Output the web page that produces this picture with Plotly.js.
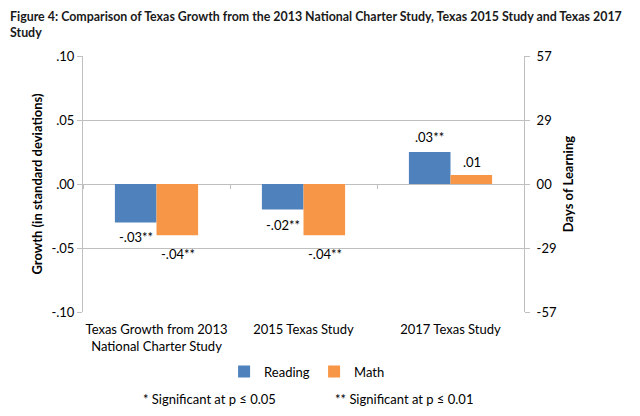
<!DOCTYPE html>
<html>
<head>
<meta charset="utf-8">
<script src="https://cdn.plot.ly/plotly-3.0.1.min.js"></script>
<style>
  html, body { margin: 0; padding: 0; background: #fff; }
  #chart { width: 640px; height: 416px; }
</style>
</head>
<body>
<div id="chart"></div>
<script>
// categories and values
var studies = ['Texas Growth from 2013<br>National Charter Study', '2015 Texas Study', '2017 Texas Study'];
var reading = [-0.03, -0.02, 0.025];
var math = [-0.04, -0.04, 0.007];
var readingLabels = ['-.03**', '-.02**', '.03**'];
var mathLabels = ['-.04**', '-.04**', '.01'];

var sdTicks = [0.10, 0.05, 0.00, -0.05, -0.10];
var sdText = ['.10', '.05', '.00', '-.05', '-.10'];
var daysText = ['57', '29', '00', '-29', '-57'];

var fontFam = 'Lato, "Open Sans", sans-serif';
var blue = '#4f81bd';
var orange = '#f79646';
var grid = '#bfbfbf';

var traceReading = {
    x: studies,
    y: reading,
    name: 'Reading',
    type: 'bar',
    marker: { color: blue },
    hoverinfo: 'none'
};

var traceMath = {
    x: studies,
    y: math,
    name: 'Math',
    type: 'bar',
    marker: { color: orange },
    hoverinfo: 'none'
};

// draws nothing, only makes the days axis and the zero-line ticks show up
var traceAxes = {
    x: studies,
    y: reading,
    xaxis: 'x2',
    yaxis: 'y2',
    type: 'scatter',
    mode: 'none',
    showlegend: false,
    hoverinfo: 'none'
};

// value labels just outside the bar ends
var notes = [];
for (let i = 0; i < studies.length; i++) {
    notes.push({
        x: studies[i], y: reading[i], xref: 'x', yref: 'y',
        text: readingLabels[i], showarrow: false,
        xshift: -21, yshift: reading[i] < 0 ? -15 : 15,
        font: { family: fontFam, size: 13, color: '#000' }
    });
    notes.push({
        x: studies[i], y: math[i], xref: 'x', yref: 'y',
        text: mathLabels[i], showarrow: false,
        xshift: 21, yshift: math[i] < 0 ? -19 : 13,
        font: { family: fontFam, size: 13, color: '#000' }
    });
}

// significance footnotes
notes.push({
    xref: 'paper', yref: 'paper', x: 0.286, y: -0.339,
    xanchor: 'center', yanchor: 'middle',
    text: '* Significant at p \u2264 0.05', showarrow: false,
    font: { family: fontFam, size: 13, color: '#000' }
});
notes.push({
    xref: 'paper', yref: 'paper', x: 0.728, y: -0.339,
    xanchor: 'center', yanchor: 'middle',
    text: '** Significant at p \u2264 0.01', showarrow: false,
    font: { family: fontFam, size: 13, color: '#000' }
});

var layout = {
    width: 640,
    height: 416,
    margin: { l: 83, r: 116, t: 56, b: 104 },
    paper_bgcolor: '#fff',
    plot_bgcolor: '#fff',
    font: { family: fontFam, size: 13, color: '#000' },
    title: {
        text: '<b>Figure 4: Comparison of Texas Growth from the 2013 National Charter Study, Texas 2015 Study and Texas 2017<br>Study</b>',
        x: 10 / 640, xref: 'container', xanchor: 'left',
        y: 0.949, yref: 'container', yanchor: 'top',
        font: { family: fontFam, size: 12.4, color: '#1a1a1a' }
    },
    barmode: 'group',
    bargap: 0.434,
    bargroupgap: 0,
    showlegend: true,
    legend: {
        orientation: 'h',
        x: 0.524, xanchor: 'center',
        y: -0.233, yanchor: 'middle',
        font: { family: fontFam, size: 13, color: '#000' },
        itemwidth: 30,
        entrywidth: 45,
        traceorder: 'normal'
    },
    xaxis: {
        type: 'category',
        showgrid: false,
        showline: false,
        ticks: '',
        ticklabelstandoff: 8,
        tickfont: { family: fontFam, size: 13, color: '#000' },
        fixedrange: true
    },
    // category boundary ticks sitting on the zero line
    xaxis2: {
        type: 'category',
        overlaying: 'x',
        anchor: 'free',
        position: 0.5,
        range: [-0.5, 2.5],
        tickson: 'boundaries',
        ticks: 'outside',
        ticklen: 4,
        tickcolor: grid,
        showticklabels: false,
        showgrid: false,
        showline: false,
        zeroline: false
    },
    yaxis: {
        range: [-0.1, 0.1],
        tickvals: sdTicks,
        ticktext: sdText,
        showgrid: true,
        gridcolor: grid,
        zeroline: false,
        showline: true,
        linecolor: grid,
        ticks: 'outside',
        ticklen: 5,
        tickcolor: grid,
        tickfont: { family: fontFam, size: 13, color: '#000' },
        title: {
            text: '<b>Growth (in standard deviations)</b>',
            font: { family: fontFam, size: 13, color: '#000' },
            standoff: 5
        }
    },
    yaxis2: {
        overlaying: 'y',
        anchor: 'x',
        side: 'right',
        range: [-0.1, 0.1],
        tickvals: sdTicks,
        ticktext: daysText,
        showgrid: false,
        zeroline: false,
        showline: true,
        linecolor: grid,
        ticks: 'outside',
        ticklen: 5,
        tickcolor: grid,
        ticklabelstandoff: 4,
        tickfont: { family: fontFam, size: 13, color: '#000' },
        title: {
            text: '<b>Days of Learning</b>',
            font: { family: fontFam, size: 13, color: '#000' },
            standoff: 7
        }
    },
    annotations: notes
};

Plotly.newPlot('chart', [traceReading, traceMath, traceAxes], layout, { displayModeBar: false, staticPlot: true });
</script>
</body>
</html>
